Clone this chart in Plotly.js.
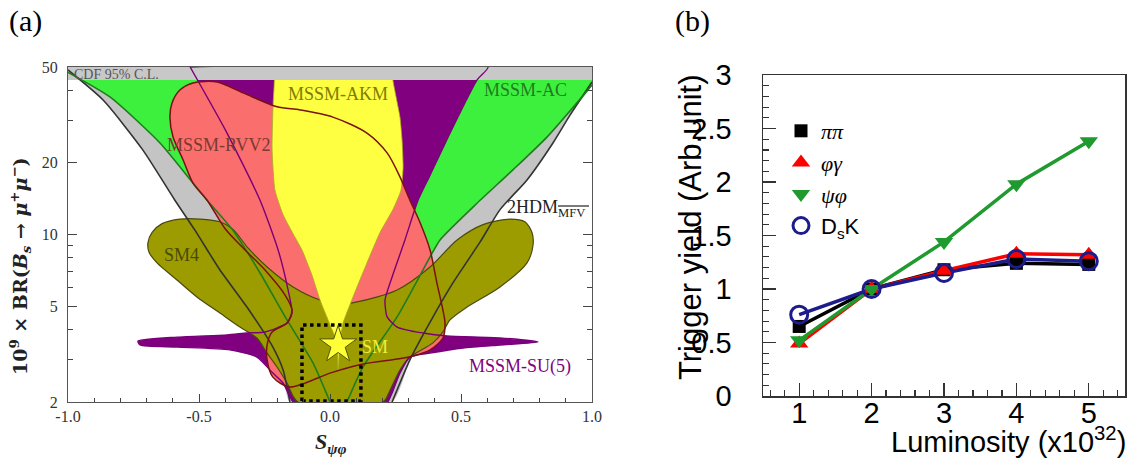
<!DOCTYPE html>
<html><head><meta charset="utf-8">
<script src="https://cdn.plot.ly/plotly-3.0.1.min.js"></script>
<style>html,body{margin:0;padding:0;background:#fff;}#chart{width:1136px;height:461px;}</style>
</head><body><div id="chart"></div>
<script>
// ===== Panel (a): regions in the (S_psiphi, 1e9 x BR) plane =====
// 2HDM_MFV boundary lines (dark)
const hdmLeftS  = [-1, -0.866, -0.714, -0.592, -0.515, -0.420, -0.317, -0.218, -0.179, -0.153];
const hdmLeftBR = [48.6, 36.4, 22.5, 13.9, 10.4, 7.11, 4.98, 3.39, 2.72, 2.0];
const hdmRightS  = [0.237, 0.305, 0.382, 0.469, 0.573, 0.649, 0.752, 0.851, 0.916, 1.0];
const hdmRightBR = [2.0, 3.0, 4.31, 6.28, 9.31, 12.7, 16.9, 24.1, 31.5, 43.3];
// MSSM-AC boundary lines (green)
const acLeftS  = [-1, -0.840, -0.649, -0.523, -0.469, -0.370, -0.267, -0.164, -0.065, 0.0];
const acLeftBR = [47.5, 37.5, 24.1, 16.4, 13.9, 10.4, 6.91, 4.40, 2.91, 2.0];
const acRightS  = [0.065, 0.126, 0.256, 0.382, 0.420, 0.561, 0.698, 0.828, 1.0];
const acRightBR = [2.0, 2.80, 4.53, 8.06, 9.49, 13.5, 18.6, 25.5, 42.1];
// MSSM-SU(5) region (purple)
const su5S  = [-0.534, -0.393, -0.267, -0.198, -0.160, -0.145, -0.164, -0.248, -0.317, -0.393, -0.584, -0.733, -0.725, -0.584, -0.382, -0.279, -0.218, -0.179, -0.153, -0.141,
               0.221, 0.237, 0.267, 0.305, 0.382, 0.508, 0.649, 0.794, 0.649, 0.447, 0.355, 0.256, 0.218, 0.210, 0.237, 0.286, 0.336, 0.382, 0.458, 0.561, 0.603];
const su5BR = [50, 26.5, 13.9, 8.62, 5.87, 4.70, 4.27, 3.92, 3.88, 3.81, 3.73, 3.59, 3.46, 3.39, 3.30, 3.08, 2.64, 2.40, 2.10, 2.0,
               2.0, 2.18, 2.64, 3.08, 3.20, 3.36, 3.46, 3.56, 3.70, 3.77, 3.88, 4.11, 4.53, 5.33, 6.65, 9.49, 13.9, 17.7, 26.5, 44.1, 50];
// MSSM-RVV2 region (salmon)
const rvvS  = [-0.523, -0.431, -0.332, -0.202, -0.115, 0.011, 0.141, 0.218, 0.267, 0.305, 0.344, 0.382, 0.408, 0.431, 0.439, 0.431, 0.382, 0.317, 0.256, 0.126,
               0.0, -0.153, -0.218, -0.240, -0.240, -0.221, -0.164, -0.145, -0.172, -0.248, -0.324, -0.401, -0.469, -0.523, -0.561, -0.599, -0.611, -0.603, -0.573];
const rvvBR = [42.9, 43.3, 39.0, 34.1, 33.1, 30.9, 26.5, 21.9, 17.4, 13.9, 11.2, 8.62, 6.28, 4.84, 4.27, 3.70, 3.30, 3.11, 3.02, 2.88,
               2.64, 2.31, 2.54, 3.00, 3.46, 3.92, 4.27, 4.84, 5.60, 7.11, 8.62, 10.6, 13.9, 16.4, 20.5, 25.5, 30.9, 35.4, 40.1];
// MSSM-AKM region (yellow)
const akmS  = [-0.202, -0.214, -0.218, -0.221, -0.210, -0.179, -0.134, -0.107, -0.069, -0.038, 0.008, 0.027, 0.031, 0.038, 0.050, 0.088, 0.141, 0.191, 0.240, 0.271, 0.279, 0.275, 0.267, 0.240, 0.237];
const akmBR = [50, 40.1, 33.1, 22.5, 15.3, 12.1, 9.76, 8.62, 6.78, 5.33, 4.00, 3.53, 2.72, 3.53, 4.27, 5.49, 7.61, 10.2, 12.7, 15.3, 19.1, 24.8, 30.9, 44.1, 50];
// SM4 region (olive)
const sm4S  = [-0.695, -0.679, -0.641, -0.573, -0.496, -0.420, -0.370, -0.313, -0.240, -0.141, -0.038, 0.038, 0.103, 0.256, 0.382, 0.485, 0.584, 0.687, 0.744, 0.771, 0.775,
               0.752, 0.649, 0.523, 0.458, 0.431, 0.393, 0.305, 0.267, 0.229, 0.202, -0.122, -0.164, -0.202, -0.240, -0.279, -0.344, -0.420, -0.508, -0.584, -0.660, -0.691];
const sm4BR = [9.22, 10.2, 11.1, 11.6, 11.6, 11.3, 10.5, 8.79, 7.32, 6.04, 5.33, 5.13, 5.23, 5.87, 7.32, 9.49, 11.0, 11.6, 11.3, 10.2, 9.04,
               7.61, 6.04, 4.98, 4.40, 3.92, 3.53, 3.08, 2.72, 2.24, 2.0, 2.0, 2.40, 2.80, 3.20, 3.70, 4.11, 4.70, 5.49, 6.46, 7.61, 8.45];
// CDF 95% C.L. excluded band
const cdfS  = [-1, 1];
const cdfBR = [44.1, 50];
// SM point and dotted SM box
const smS = [0.031], smBR = [3.46];
const boxS = [-0.107, 0.118], boxBR = [2.02, 4.19];
const xTickVals = [-1, -0.5, 0, 0.5, 1], xTickText = ['-1.0', '-0.5', '0.0', '0.5', '1.0'];
const yTickVals = [2, 5, 10, 20, 50], yMinorVals = [3, 4, 6, 7, 8, 9, 30, 40];

// ===== Panel (b): trigger yield vs luminosity =====
const lumi     = [1, 2, 3, 4, 5];
const pipi     = [0.65, 1.00, 1.18, 1.24, 1.23];
const phigamma = [0.49, 1.00, 1.17, 1.33, 1.32];
const psiphi   = [0.52, 1.00, 1.44, 1.98, 2.38];
const dsk      = [0.76, 1.00, 1.15, 1.28, 1.26];
const seriesNames = ['<i>ππ</i>', '<i>φγ</i>', '<i>ψφ</i>', '<span style="font-family:Liberation Sans">D<sub>s</sub>K</span>'];

// ---------- build ----------
const W = 1136, H = 461;
const fx = p => p / W, fy = p => 1 - p / H;
const close = a => a.concat([a[0]]);
const traces = [];
function region(S, BR, fill, lineColor, lineW, smooth) {
  traces.push({x: S, y: BR, xaxis: 'x', yaxis: 'y', mode: 'lines', fill: 'toself', fillcolor: fill,
    line: {color: lineColor || fill, width: lineW || 0, shape: smooth ? 'spline' : 'linear', smoothing: smooth || 0},
    hoverinfo: 'skip', showlegend: false});
}
function curve(S, BR, color, w, smooth) {
  traces.push({x: S, y: BR, xaxis: 'x', yaxis: 'y', mode: 'lines',
    line: {color: color, width: w, shape: smooth ? 'spline' : 'linear', smoothing: smooth || 0},
    hoverinfo: 'skip', showlegend: false});
}
// fills
region([-1].concat(hdmLeftS, hdmRightS, [1]), [50].concat(hdmLeftBR, hdmRightBR, [50]), '#c4c4c4', null, 0, 0.6);
region(acLeftS.concat(acRightS, [1, -1]), acLeftBR.concat(acRightBR, [50, 50]), '#3ef03e', null, 0, 0.6);
region(su5S, su5BR, '#800080', null, 0, 0.6);
region(rvvS, rvvBR, '#fb6e6e', null, 0, 0.8);
region(close(sm4S), close(sm4BR), '#9c9c00', '#4a4a10', 1.2, 0.8);
region(close(akmS), close(akmBR), '#ffff42', '#a8a820', 0.8, 0.5);
region([cdfS[0], cdfS[1], cdfS[1], cdfS[0]], [cdfBR[0], cdfBR[0], cdfBR[1], cdfBR[1]], '#c8c8c8', null, 0, 0);
// boundary lines
curve(hdmLeftS, hdmLeftBR, '#333333', 1.6, 0.6);
curve(hdmRightS, hdmRightBR, '#333333', 1.6, 0.6);
curve(acLeftS, acLeftBR, '#1e7d1e', 1.6, 0.6);
curve(acRightS, acRightBR, '#1e7d1e', 1.6, 0.6);
curve(su5S.slice(0, 20), su5BR.slice(0, 20), '#7a007a', 1.4, 0.6);
curve(su5S.slice(20).concat([su5S[0]]), su5BR.slice(20).concat([su5BR[0]]), '#7a007a', 1.4, 0.6);
curve(close(rvvS), close(rvvBR), '#7a1212', 1.5, 0.8);
// SM box and star
traces.push({x: [boxS[0], boxS[0], boxS[1], boxS[1], boxS[0]], y: [boxBR[0], boxBR[1], boxBR[1], boxBR[0], boxBR[0]],
  xaxis: 'x', yaxis: 'y', mode: 'lines', line: {color: '#000', width: 3.5, dash: 'dot'}, hoverinfo: 'skip', showlegend: false});
traces.push({x: smS, y: smBR, xaxis: 'x', yaxis: 'y', mode: 'markers',
  marker: {symbol: 'star', size: 28, color: '#ffff38', line: {color: '#55550a', width: 1}}, hoverinfo: 'skip', showlegend: false});

// panel (b)
const seriesY = [pipi, phigamma, psiphi, dsk];
const colors = ['#000000', '#ff0000', '#1f9a2f', '#1c1c8c'];
const symbols = ['square', 'triangle-up', 'triangle-down', 'circle-open'];
const sizes = [13, 16, 16, 17];
seriesY.forEach((ys, i) => traces.push({x: lumi, y: ys, xaxis: 'x2', yaxis: 'y2', mode: 'lines',
  line: {color: colors[i], width: 3.5}, showlegend: false, hoverinfo: 'skip'}));
seriesY.forEach((ys, i) => traces.push({x: lumi, y: ys, xaxis: 'x2', yaxis: 'y2', mode: 'markers', name: seriesNames[i],
  marker: {symbol: symbols[i], size: sizes[i], color: colors[i], line: {color: colors[i], width: i === 3 ? 3 : 0}},
  showlegend: true, hoverinfo: 'skip'}));

const serif = 'Liberation Serif, Times New Roman, serif';
const sans = 'Liberation Sans, Arial, sans-serif';
function lab(text, x, y, size, color, extra) {
  return Object.assign({text: text, xref: 'paper', yref: 'paper', x: fx(x), y: fy(y), showarrow: false,
    xanchor: 'center', yanchor: 'middle', font: {family: serif, size: size, color: color}}, extra || {});
}
const annotations = [
  lab('(a)', 25, 21, 30, '#000'),
  lab('(b)', 692, 21, 30, '#000'),
  lab('CDF 95% C.L.', 72, 74, 14, '#555', {xanchor: 'left'}),
  lab('MSSM-AKM', 338, 94, 18, '#7d7d00'),
  lab('MSSM-AC', 525, 90, 18, '#1e7d1e'),
  lab('MSSM-RVV2', 219, 145, 18, '#7a3a2e'),
  lab('2HDM<sub>MFV</sub>', 505, 208, 18, '#222', {xanchor: 'left'}),
  lab('SM4', 181, 255, 18, '#4a4a08'),
  lab('SM', 375, 347, 18, '#eeee3a'),
  lab('MSSM-SU(5)', 520, 366, 18, '#800080'),
  lab('<b><i>S</i><sub><i>ψφ</i></sub></b>', 331, 443, 22, '#222'),
  lab('<b>10<sup>9</sup> × BR(<i>B<sub>s</sub></i> → <i>μ</i><sup>+</sup><i>μ</i><sup>−</sup>)</b>', 20, 266, 19, '#222',
      {textangle: -90, font: {family: 'DejaVu Serif, serif', size: 19, color: '#222'}}),
  lab('Trigger yield (Arb.unit)', 690, 227, 31, '#000', {textangle: -90, font: {family: sans, size: 31, color: '#000'}}),
  lab('Luminosity (x10<sup>32</sup>)', 1128, 440, 29, '#000', {xanchor: 'right', font: {family: sans, size: 29, color: '#000'}})
];

const layout = {
  width: W, height: H, margin: {l: 0, r: 0, t: 0, b: 0}, paper_bgcolor: '#fff', plot_bgcolor: '#fff',
  showlegend: true,
  xaxis: {domain: [fx(68), fx(592)], range: [-1, 1], anchor: 'y', tickmode: 'array', tickvals: xTickVals, ticktext: xTickText,
    ticks: 'inside', ticklen: 8, tickcolor: '#444', showline: true, mirror: true, linecolor: '#555', linewidth: 1,
    showgrid: false, zeroline: false, tickfont: {family: serif, size: 16, color: '#333'},
    minor: {dtick: 0.1, tick0: 0, ticks: 'inside', ticklen: 4, tickcolor: '#444'}},
  yaxis: {domain: [fy(402), fy(67)], type: 'log', range: [Math.log10(2), Math.log10(50)], anchor: 'x',
    tickmode: 'array', tickvals: yTickVals, ticktext: yTickVals.map(String),
    ticks: 'inside', ticklen: 9, tickcolor: '#444', showline: true, mirror: 'ticks', linecolor: '#555', linewidth: 1,
    showgrid: false, zeroline: false, tickfont: {family: serif, size: 16, color: '#333'}, ticklabelstandoff: 6,
    minor: {tickmode: 'array', tickvals: yMinorVals, ticks: 'inside', ticklen: 5, tickcolor: '#444'}},
  xaxis2: {domain: [fx(763), fx(1125)], range: [0.5, 5.5], anchor: 'y2', tickmode: 'array', tickvals: lumi,
    ticks: 'inside', ticklen: 13, tickwidth: 1.2, tickcolor: '#333', showline: true, mirror: true, linecolor: '#333', linewidth: 1.5,
    showgrid: false, zeroline: false, tickfont: {family: sans, size: 29, color: '#000'}, ticklabelstandoff: -9,
    minor: {dtick: 0.2, tick0: 0, ticks: 'inside', ticklen: 6, tickcolor: '#333'}},
  yaxis2: {domain: [fy(396), fy(75)], range: [0, 3], anchor: 'x2', tick0: 0, dtick: 0.5,
    ticks: 'inside', ticklen: 13, tickwidth: 1.2, tickcolor: '#333', showline: true, mirror: true, linecolor: '#333', linewidth: 1.5,
    showgrid: false, zeroline: false, tickfont: {family: sans, size: 29, color: '#000'}, ticklabelstandoff: 24,
    minor: {dtick: 0.1, tick0: 0, ticks: 'inside', ticklen: 6, tickcolor: '#333'}},
  legend: {x: fx(781), y: fy(110), xanchor: 'left', yanchor: 'top', bgcolor: 'rgba(0,0,0,0)',
    font: {family: serif, size: 22, color: '#000'}, itemsizing: 'trace'},
  shapes: [{type: 'line', xref: 'paper', yref: 'paper', x0: fx(558), x1: fx(589), y0: fy(206), y1: fy(206), line: {color: '#222', width: 1.2}}],
  annotations: annotations
};
Plotly.newPlot('chart', traces, layout, {staticPlot: true, displayModeBar: false});
</script></body></html>
